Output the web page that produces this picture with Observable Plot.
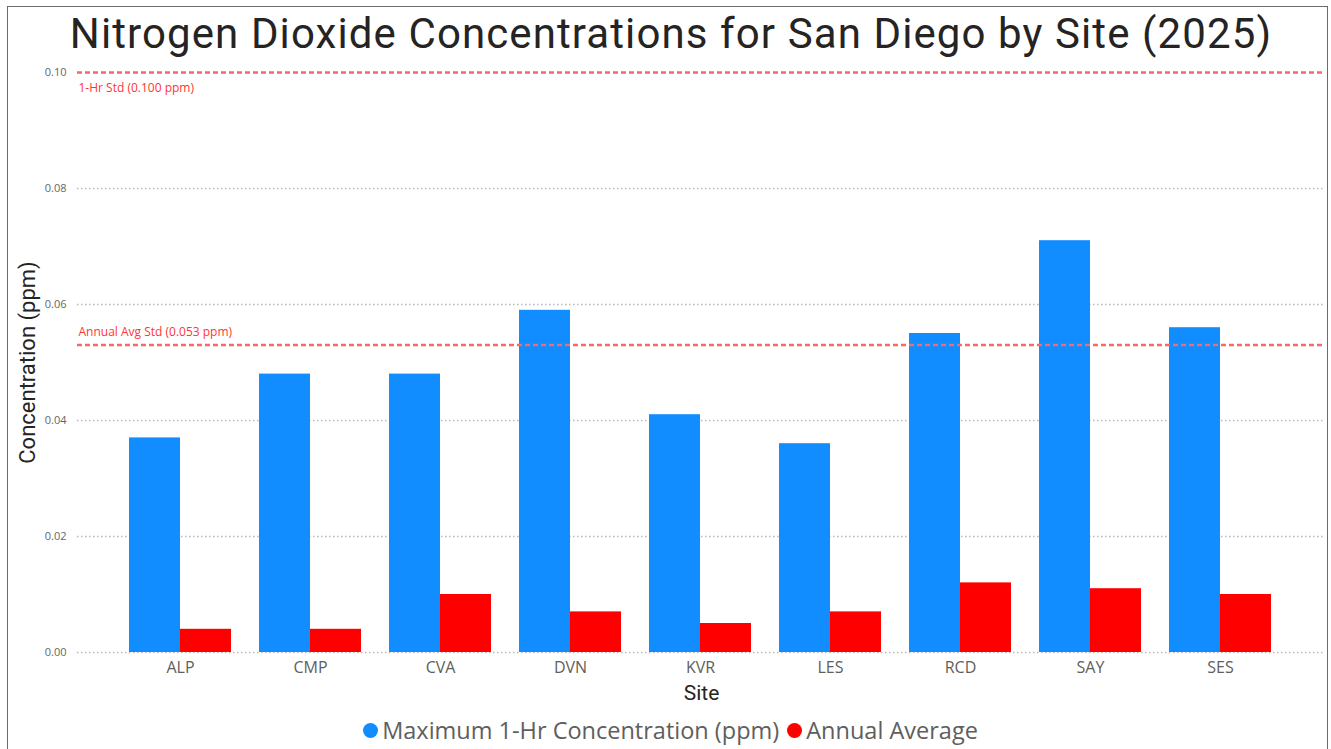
<!DOCTYPE html>
<html>
<head>
<meta charset="utf-8">
<script src="https://cdn.jsdelivr.net/npm/d3@7"></script>
<script src="https://cdn.jsdelivr.net/npm/@observablehq/plot@0.6"></script>
<style>
  html, body { margin: 0; padding: 0; background: #fff; width: 1331px; height: 749px; overflow: hidden; }
  #frame { position: absolute; left: 7px; top: 6px; width: 1321px; height: 800px; border: 1.5px solid #6b6b6b; box-sizing: border-box; }
  #title { position: absolute; left: 0; top: 6px; width: 1342px; text-align: center; font-family: Roboto, sans-serif; font-size: 42px; line-height: 56px; color: #252423; letter-spacing: 1.1px; }
  #chart { position: absolute; left: 0; top: 60px; }
  #legend { position: absolute; left: 0; top: 712px; width: 1331px; height: 36px; display: flex; justify-content: center; align-items: center; font-family: "Open Sans", sans-serif; font-size: 23.5px; color: #605E5C; padding-left: 10px; box-sizing: border-box; }
  .item { display: flex; align-items: center; margin: 0 4px; }
  .dot { width: 15px; height: 15px; border-radius: 50%; margin-right: 4px; }
</style>
</head>
<body>
<div id="frame"></div>
<div id="title">Nitrogen Dioxide Concentrations for San Diego by Site (2025)</div>
<div id="chart"></div>
<div id="legend"></div>
<script>
const sites = ["ALP", "CMP", "CVA", "DVN", "KVR", "LES", "RCD", "SAY", "SES"];
const maxHr = [0.037, 0.048, 0.048, 0.059, 0.041, 0.036, 0.055, 0.071, 0.056];
const annualAvg = [0.004, 0.004, 0.010, 0.007, 0.005, 0.007, 0.012, 0.011, 0.010];
const seriesNames = ["Maximum 1-Hr Concentration (ppm)", "Annual Average"];
const seriesColors = ["#118DFF", "#FF0000"];
const yTicks = [0, 0.02, 0.04, 0.06, 0.08, 0.10];
const gridTicks = [0, 0.02, 0.04, 0.06, 0.08];
const stdValues = [0.100, 0.053];
const stdLabels = ["1-Hr Std (0.100 ppm)", "Annual Avg Std (0.053 ppm)"];
const xTitle = "Site";
const yTitle = "Concentration (ppm)";

const maxRows = sites.map((s, i) => ({site: s, value: maxHr[i]}));
const avgRows = sites.map((s, i) => ({site: s, value: annualAvg[i]}));

const chart = Plot.plot({
  width: 1331,
  height: 650,
  marginTop: 12,
  marginBottom: 58,
  marginLeft: 77,
  marginRight: 6,
  style: {fontFamily: "'Open Sans', sans-serif", overflow: "visible", background: "transparent"},
  x: {domain: sites, padding: 0.215, insetLeft: 24, insetRight: 26, label: null},
  y: {domain: [0, 0.1], label: null},
  marks: [
    Plot.ruleY(gridTicks, {stroke: "#b8b8b8", strokeWidth: 1.5, strokeDasharray: "1.5,2.5"}),
    Plot.barY(maxRows, {x: "site", y: "value", fill: seriesColors[0], insetRight: 51}),
    Plot.barY(avgRows, {x: "site", y: "value", fill: seriesColors[1], insetLeft: 51}),
    Plot.ruleY(stdValues, {stroke: "#f46a6a", strokeWidth: 2.5, strokeDasharray: "5,3"}),
    Plot.text([stdLabels[0]], {y: () => stdValues[0], frameAnchor: "left", textAnchor: "start", dx: 1, dy: 16, fill: "#ff3535", fontSize: 12}),
    Plot.text([stdLabels[1]], {y: () => stdValues[1], frameAnchor: "left", textAnchor: "start", dx: 1, dy: -13, fill: "#ff3535", fontSize: 12}),
    Plot.axisY({ticks: yTicks, tickFormat: d3.format(".2f"), tickSize: 0, tickPadding: 11, fontSize: 11, color: "#666", label: null}),
    Plot.axisX({tickSize: 0, tickPadding: 9, fontSize: 16, color: "#605E5C", label: null}),
    Plot.text([xTitle], {frameAnchor: "bottom", lineAnchor: "middle", dy: 41, fontSize: 21, fill: "#252423", fontFamily: "Roboto, sans-serif"}),
    Plot.text([yTitle], {frameAnchor: "left", textAnchor: "middle", lineAnchor: "middle", dx: -50, rotate: -90, fontSize: 22, fill: "#252423", fontFamily: "Roboto, sans-serif"})
  ]
});
document.getElementById("chart").appendChild(chart);

const legend = document.getElementById("legend");
seriesNames.forEach((name, i) => {
  const item = document.createElement("div");
  item.className = "item";
  const dot = document.createElement("div");
  dot.className = "dot";
  dot.style.background = seriesColors[i];
  const label = document.createElement("span");
  label.textContent = name;
  item.appendChild(dot);
  item.appendChild(label);
  legend.appendChild(item);
});
</script>
</body>
</html>
